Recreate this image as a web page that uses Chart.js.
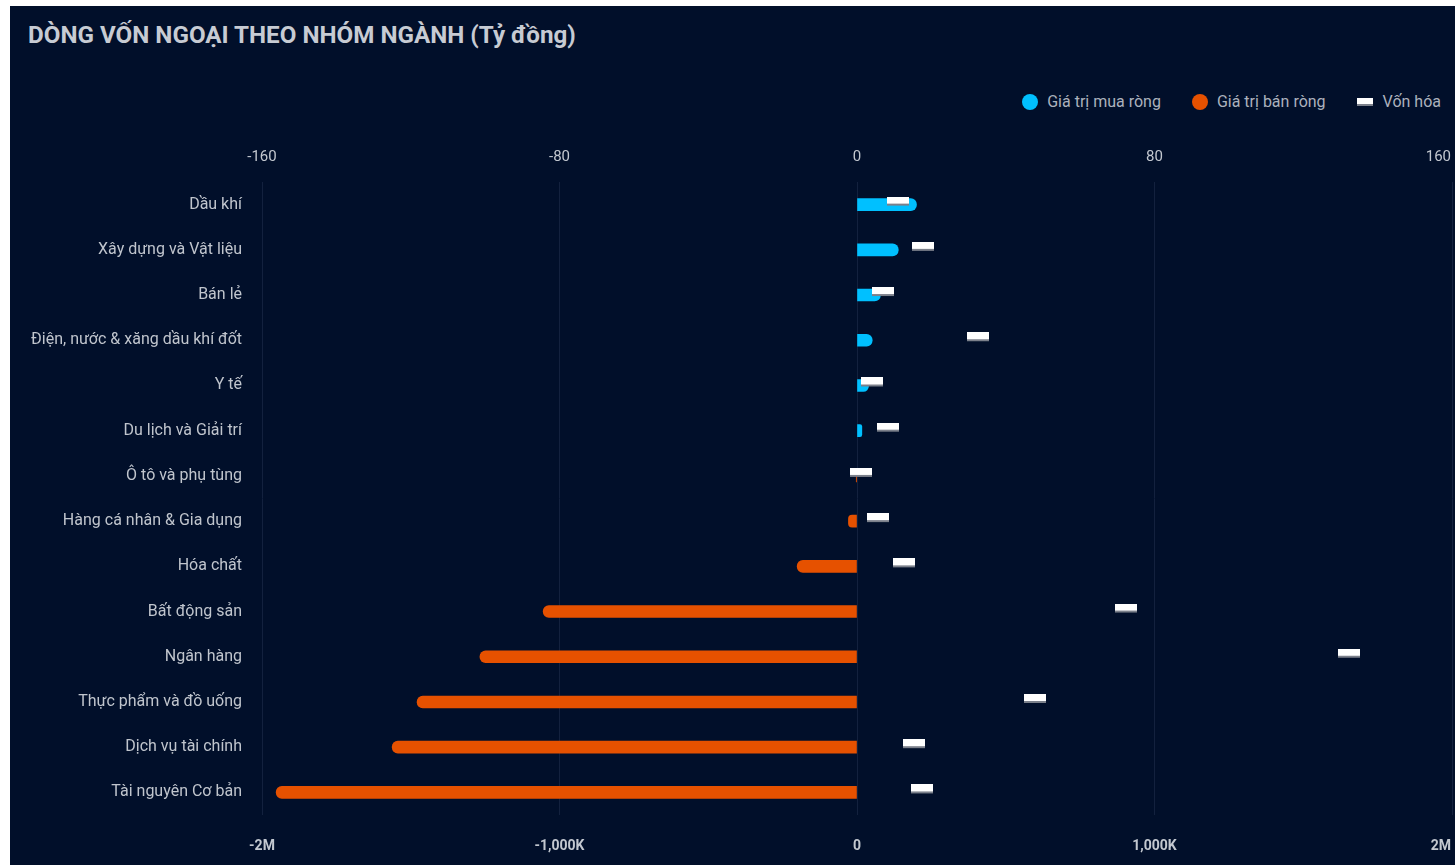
<!DOCTYPE html>
<html>
<head>
<meta charset="utf-8">
<script src="https://cdn.jsdelivr.net/npm/chart.js@4"></script>
<style>
  html, body { margin: 0; padding: 0; background: #ffffff; width: 1455px; height: 865px; overflow: hidden; font-family: Roboto, "Noto Sans", sans-serif; }
  #panel { position: absolute; left: 10px; top: 6px; width: 1445px; height: 859px; background: #010f2a; }
  #title { position: absolute; left: 28px; top: 21px; font: bold 24.2px/28px Roboto, sans-serif; color: #c7cbd3; white-space: nowrap; }
  #legend { position: absolute; right: 14px; top: 91px; height: 22px; display: flex; align-items: center; font: 16px/22px Roboto, sans-serif; color: #acb2bd; white-space: nowrap; }
  .item { display: flex; align-items: center; margin-left: 31px; }
  .dot { width: 16px; height: 16px; border-radius: 50%; margin-right: 9px; }
  .rect { width: 16px; height: 6px; background: #ffffff; border-bottom: 2px solid #7b808b; margin-right: 10px; }
  #c { position: absolute; left: 10px; top: 131px; }
</style>
</head>
<body>
<div id="panel"></div>
<div id="title">DÒNG VỐN NGOẠI THEO NHÓM NGÀNH (Tỷ đồng)</div>
<div id="legend"></div>
<canvas id="c" width="1445" height="734"></canvas>
<script>
// ---- data ----
const categories = [
  "Dầu khí",
  "Xây dựng và Vật liệu",
  "Bán lẻ",
  "Điện, nước & xăng dầu khí đốt",
  "Y tế",
  "Du lịch và Giải trí",
  "Ô tô và phụ tùng",
  "Hàng cá nhân & Gia dụng",
  "Hóa chất",
  "Bất động sản",
  "Ngân hàng",
  "Thực phẩm và đồ uống",
  "Dịch vụ tài chính",
  "Tài nguyên Cơ bản"
];
const netBuy  = [16.0, 11.1, 6.3, 4.1, 3.1, 1.3, null, null, null, null, null, null, null, null];
const netSell = [null, null, null, null, null, null, -0.2, -2.3, -16.1, -84.4, -101.4, -118.3, -125.0, -156.2];
const marketCap = [138000, 222000, 87000, 407000, 50000, 104000, 13000, 71000, 158000, 904000, 1654000, 598000, 192000, 218000];
const seriesNames = ["Giá trị mua ròng", "Giá trị bán ròng", "Vốn hóa"];
const topTicks = [-160, -80, 0, 80, 160];
const bottomTicks = [-2000000, -1000000, 0, 1000000, 2000000];

const COL_BUY = "#00c0ff";
const COL_SELL = "#e65100";

// legend (HTML)
const legend = document.getElementById("legend");
[[seriesNames[0], "dot", COL_BUY], [seriesNames[1], "dot", COL_SELL], [seriesNames[2], "rect", null]].forEach(([name, kind, col]) => {
  const it = document.createElement("div"); it.className = "item";
  const m = document.createElement("div"); m.className = kind; if (col) m.style.background = col;
  const t = document.createElement("span"); t.textContent = name;
  it.appendChild(m); it.appendChild(t); legend.appendChild(it);
});

// marker image for market-cap points
const mk = document.createElement("canvas");
mk.width = 22; mk.height = 16;
(function () {
  const g = mk.getContext("2d");
  g.fillStyle = "#ffffff"; g.fillRect(0, 0, 22, 7);
  g.fillStyle = "#7b808b"; g.fillRect(0, 7, 22, 2);
})();

function fmtCap(v) {
  if (v === 0) return "0";
  if (Math.abs(v) >= 2000000) return (v / 1000000) + "M";
  return (v / 1000).toLocaleString("en-US") + "K";
}

const edgeLabels = {
  id: "edgeLabels",
  beforeDraw(chart) {
    ["x", "x2"].forEach(id => {
      const s = chart.scales[id];
      const items = s.getLabelItems();
      if (!items.length) return;
      const last = items[items.length - 1];
      last.options.textAlign = "right";
      last.options.translation = [chart.chartArea.right - 1, last.options.translation[1]];
    });
  }
};

const zeroPad = (s) => { s.paddingLeft = 0; s.paddingRight = 0; };

new Chart(document.getElementById("c"), {
  type: "bar",
  data: {
    labels: categories,
    datasets: [
      {
        type: "line", label: seriesNames[2], data: marketCap, indexAxis: "y",
        xAxisID: "x", yAxisID: "y", showLine: false,
        pointStyle: mk, pointRadius: 8, pointHoverRadius: 8,
        backgroundColor: "#ffffff", borderColor: "#ffffff", order: -1
      },
      {
        label: seriesNames[0], data: netBuy, indexAxis: "y", xAxisID: "x2", yAxisID: "y",
        backgroundColor: COL_BUY, barThickness: 12, grouped: false,
        borderRadius: 6, borderSkipped: "start", order: 1
      },
      {
        label: seriesNames[1], data: netSell, indexAxis: "y", xAxisID: "x2", yAxisID: "y",
        backgroundColor: COL_SELL, barThickness: 12, grouped: false,
        borderRadius: 6, borderSkipped: "start", order: 2
      }
    ]
  },
  options: {
    indexAxis: "y",
    responsive: false,
    animation: false,
    layout: { autoPadding: false, padding: { left: 0, right: 3, top: 0, bottom: 0 } },
    plugins: { legend: { display: false }, title: { display: false }, tooltip: { enabled: false } },
    scales: {
      x2: {
        type: "linear", position: "top", min: -160, max: 160,
        afterBuildTicks: (s) => { s.ticks = topTicks.map(v => ({ value: v })); },
        afterFit: (s) => { s.height = 51; zeroPad(s); },
        grid: { color: "#13213e", lineWidth: 1, drawTicks: false },
        border: { display: false },
        ticks: { color: "#c3c8d0", font: { family: "Roboto", size: 15 }, padding: 16, maxRotation: 0 }
      },
      x: {
        type: "linear", position: "bottom", min: -2000000, max: 2000000,
        afterBuildTicks: (s) => { s.ticks = bottomTicks.map(v => ({ value: v })); },
        afterFit: (s) => { s.height = 50; zeroPad(s); },
        grid: { display: false, drawTicks: false },
        border: { display: false },
        ticks: { color: "#c3c8d0", font: { family: "Roboto", size: 14, weight: "bold" }, padding: 23, maxRotation: 0, callback: (v) => fmtCap(v) }
      },
      y: {
        type: "category", position: "left",
        afterFit: (s) => { s.width = 252; },
        grid: { display: false, drawTicks: false },
        border: { display: false },
        ticks: { color: "#c0c5cd", font: { family: "Roboto", size: 16 }, padding: 20, autoSkip: false }
      }
    }
  },
  plugins: [edgeLabels]
});
</script>
</body>
</html>
